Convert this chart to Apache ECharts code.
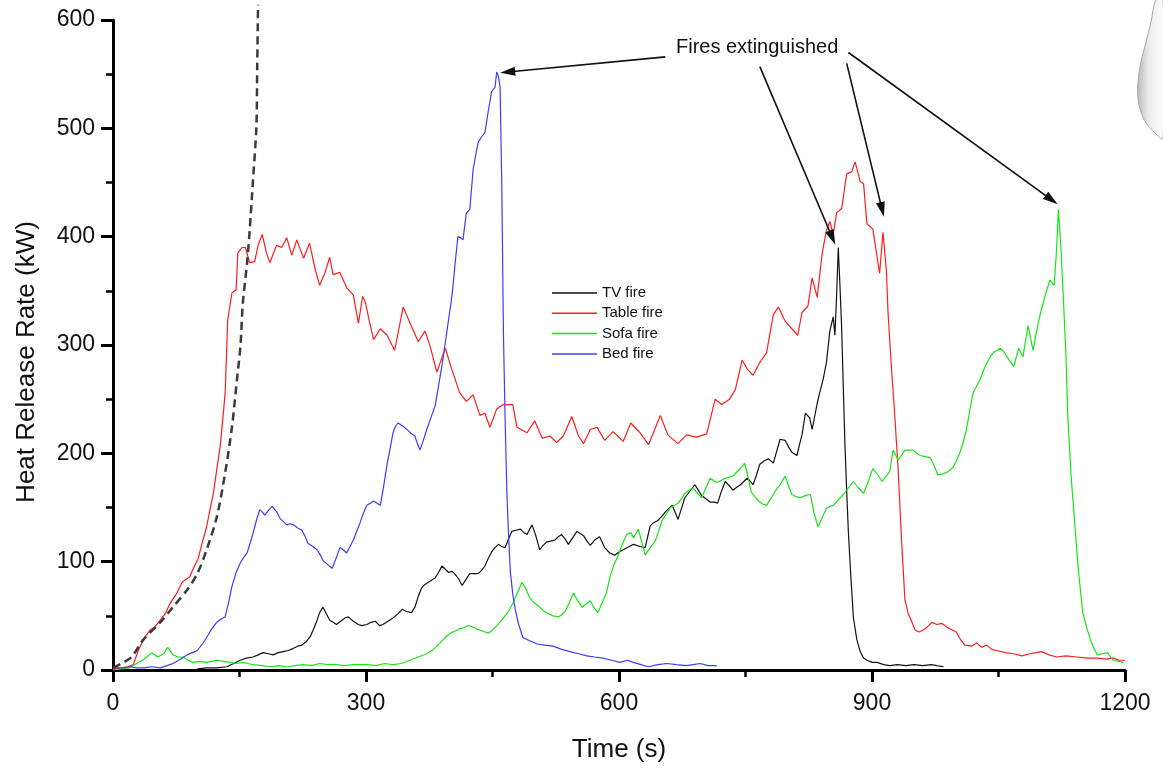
<!DOCTYPE html>
<html>
<head>
<meta charset="utf-8">
<script src="https://cdn.jsdelivr.net/npm/echarts@6/dist/echarts.min.js"></script>
<style>html,body{margin:0;padding:0;background:#fff;}#c{width:1163px;height:771px;}</style>
</head>
<body>
<div id="c"></div>
<script>
// ---- Data (time s, heat release rate kW) ----
var seriesNames = ['TV fire', 'Table fire', 'Sofa fire', 'Bed fire'];

var tvFire = [[100,1],[111,2],[123,2],[135,3],[143,6],[151,9],[158,11],[166,12],[172,14],[178,16],[184,15],[190,14],[196,16],[202,17],[208,18],[214,20],[219,22],[224,23],[229,26],[234,31],[238,38],[242,46],[245,53],[249,58],[253,52],[257,46],[261,44],[265,42],[270,45],[275,48],[279,49],[285,45],[291,42],[295,41],[301,42],[306,44],[311,45],[316,41],[320,42],[326,45],[332,48],[338,52],[343,56],[348,54],[354,53],[358,58],[362,68],[366,76],[370,79],[374,81],[378,83],[382,85],[386,90],[390,96],[394,93],[398,90],[402,91],[405,89],[410,84],[414,78],[418,83],[423,89],[428,89],[433,89],[437,92],[441,96],[445,103],[449,109],[453,113],[457,116],[461,114],[465,113],[469,121],[473,128],[478,129],[483,130],[487,127],[491,125],[494,130],[497,134],[501,125],[506,111],[510,115],[514,118],[519,119],[524,120],[528,123],[532,125],[536,121],[540,116],[545,122],[550,128],[554,126],[558,124],[562,119],[566,115],[571,120],[577,123],[583,113],[589,108],[595,106],[600,109],[605,111],[610,113],[617,116],[625,114],[631,113],[637,133],[641,136],[646,138],[651,142],[655,146],[659,149],[663,152],[667,145],[670,139],[674,149],[678,159],[684,165],[690,171],[694,166],[698,161],[703,158],[708,155],[713,155],[717,154],[721,164],[726,174],[731,170],[735,166],[740,169],[744,171],[748,174],[752,177],[756,174],[759,171],[763,180],[767,190],[772,193],[777,195],[783,191],[787,202],[791,213],[797,212],[801,206],[805,201],[811,198],[814,208],[817,217],[821,237],[826,233],[829,222],[835,246],[838,256],[842,268],[846,284],[850,313],[854,326],[856,309],[858,345],[860,390],[862,355],[864,316],[866,260],[868,206],[870,165],[872,127],[875,85],[878,48],[882,28],[886,17],[890,11],[894,9],[900,7],[906,7],[914,5],[921,4],[930,5],[940,4],[950,5],[960,4],[970,5],[977,4],[985,3]];

var tableFire = [[0,1],[10,2],[18,3],[24,5],[30,18],[36,28],[44,37],[50,40],[56,46],[62,52],[68,62],[75,70],[82,81],[91,86],[96,95],[101,103],[106,118],[111,132],[115,148],[119,163],[123,185],[127,206],[130,230],[133,256],[136,323],[141,348],[146,351],[148,385],[153,390],[157,390],[162,376],[168,377],[172,392],[177,402],[182,385],[186,376],[194,392],[200,390],[206,399],[212,383],[218,397],[226,380],[233,394],[240,369],[245,355],[251,366],[257,381],[261,365],[269,367],[277,353],[285,346],[291,320],[296,345],[299,340],[304,322],[309,305],[317,315],[325,309],[334,295],[344,335],[354,317],[362,303],[370,313],[376,299],[384,275],[394,297],[402,277],[411,256],[419,248],[427,254],[435,235],[441,237],[447,224],[455,241],[463,245],[474,245],[479,224],[491,219],[500,230],[509,214],[518,216],[526,210],[534,216],[544,234],[552,216],[558,209],[566,222],[574,224],[583,212],[593,220],[605,211],[614,228],[625,219],[635,208],[649,235],[658,217],[670,209],[680,217],[692,215],[704,218],[714,250],[722,245],[731,250],[738,259],[746,286],[752,278],[759,272],[767,284],[775,293],[783,328],[789,335],[797,322],[805,315],[812,309],[817,330],[824,336],[829,362],[835,344],[841,385],[846,406],[850,414],[854,402],[858,422],[864,426],[870,458],[876,460],[880,469],[886,451],[890,449],[894,412],[901,407],[909,366],[913,404],[917,369],[919,330],[923,280],[927,235],[931,185],[935,120],[939,65],[943,52],[947,45],[951,37],[956,35],[961,37],[966,40],[971,44],[977,42],[983,43],[990,39],[1000,35],[1005,28],[1010,23],[1018,22],[1024,25],[1030,21],[1036,23],[1042,19],[1048,18],[1058,16],[1068,15],[1078,13],[1087,15],[1095,16],[1101,17],[1110,14],[1119,12],[1130,13],[1143,12],[1155,11],[1167,11],[1178,10],[1186,11],[1193,9],[1200,9]];

var sofaFire = [[0,0],[10,1],[20,2],[28,6],[35,9],[40,12],[46,16],[53,12],[60,15],[65,21],[71,14],[77,12],[83,12],[89,9],[95,7],[103,8],[111,7],[117,8],[123,9],[131,8],[139,7],[146,6],[154,7],[160,6],[166,5],[176,4],[186,3],[196,4],[206,3],[215,4],[225,5],[235,4],[245,6],[255,5],[265,5],[275,4],[285,5],[293,5],[302,5],[312,4],[322,6],[332,5],[342,6],[352,9],[362,12],[372,15],[380,19],[388,25],[394,30],[400,34],[406,36],[411,38],[416,39],[421,41],[426,40],[431,38],[438,36],[445,34],[450,37],[455,41],[461,46],[467,52],[471,57],[475,63],[480,72],[485,81],[490,74],[494,67],[498,63],[503,60],[510,55],[516,52],[522,50],[528,49],[532,51],[536,54],[541,62],[546,71],[551,64],[556,58],[561,61],[566,64],[570,58],[575,53],[580,62],[585,71],[590,88],[594,97],[599,106],[604,116],[609,125],[614,127],[617,122],[620,126],[623,130],[627,118],[631,106],[637,113],[643,119],[647,128],[651,138],[656,144],[661,150],[666,152],[670,154],[674,158],[678,163],[683,166],[688,168],[693,163],[698,159],[703,168],[708,177],[712,175],[716,173],[721,175],[726,177],[731,178],[735,179],[740,183],[744,186],[749,191],[753,178],[757,164],[762,159],[767,155],[771,153],[775,152],[779,157],[783,162],[787,167],[791,171],[797,179],[801,170],[805,162],[810,160],[815,159],[821,161],[827,162],[831,146],[836,132],[841,141],[846,149],[850,151],[854,152],[860,157],[866,162],[872,168],[878,174],[884,168],[890,163],[896,175],[901,186],[907,180],[912,174],[916,178],[921,183],[925,203],[931,194],[935,198],[939,203],[944,203],[949,203],[953,200],[957,198],[963,197],[969,196],[974,188],[978,180],[984,181],[990,183],[996,187],[1000,193],[1004,200],[1008,210],[1012,222],[1016,240],[1020,256],[1024,262],[1028,268],[1034,280],[1040,289],[1044,293],[1048,295],[1052,297],[1056,294],[1062,287],[1068,280],[1074,297],[1079,289],[1085,318],[1091,295],[1097,320],[1100,330],[1103,339],[1107,350],[1111,360],[1116,355],[1119,390],[1121,425],[1124,390],[1127,342],[1130,290],[1132,237],[1136,180],[1141,129],[1145,90],[1150,53],[1155,38],[1159,28],[1163,20],[1167,14],[1173,15],[1179,16],[1183,12],[1186,9],[1192,8],[1198,7]];

var bedFire = [[0,2],[10,2],[20,3],[28,2],[36,2],[46,3],[56,2],[64,4],[71,6],[80,10],[88,14],[94,16],[100,18],[106,24],[111,30],[117,38],[123,44],[128,47],[133,49],[137,62],[141,77],[146,90],[151,99],[155,104],[159,108],[163,118],[166,126],[170,138],[174,148],[177,146],[180,143],[185,148],[189,151],[194,146],[198,140],[202,137],[206,134],[210,135],[214,134],[219,131],[224,129],[228,123],[231,117],[237,114],[242,111],[246,106],[249,101],[255,97],[260,94],[265,104],[269,113],[273,111],[277,108],[281,114],[285,120],[289,128],[293,136],[297,145],[301,152],[305,154],[309,156],[313,154],[317,152],[321,170],[325,190],[329,206],[332,219],[335,225],[338,228],[344,225],[350,221],[354,218],[358,216],[361,209],[364,203],[368,212],[372,222],[377,233],[382,244],[386,262],[390,281],[394,302],[398,324],[401,340],[403,353],[406,378],[409,400],[412,399],[415,397],[419,422],[423,425],[425,443],[427,462],[430,475],[433,487],[437,492],[441,496],[443,506],[445,516],[447,525],[449,534],[451,536],[453,538],[455,552],[457,548],[459,538],[461,448],[463,309],[465,230],[467,165],[469,125],[471,92],[474,70],[477,56],[481,42],[486,30],[494,27],[503,24],[512,23],[522,22],[532,19],[542,17],[552,15],[562,13],[571,12],[581,11],[591,9],[601,7],[610,9],[617,7],[626,5],[635,3],[646,5],[657,6],[668,5],[680,4],[688,5],[696,6],[706,4],[716,4]];

// dashed growth curve
var growthCurve = [[0,2],[10,6],[22,12],[36,28],[56,44],[71,58],[88,74],[100,89],[111,111],[123,141],[133,182],[141,224],[147,268],[151,298],[154,339],[159,376],[162,405],[166,452],[170,501],[171,557],[172,614]];

// annotation arrows: [start, end] in data coordinates
var arrowLines = [
  [[655,566],[468,552]],
  [[767,557],[853,399]],
  [[870,560],[912,425]],
  [[872,570],[1113,434]]
];
var annotationText = 'Fires extinguished';

var xAxisRange = [0, 1200, 300];
var yAxisRange = [0, 600, 100];

var colors = ['#111111', '#ff1c1c', '#14e614', '#3c3cff'];
var FONT = "'Liberation Sans', Arial, sans-serif";

var chart = echarts.init(document.getElementById('c'), null, {renderer: 'canvas'});

function lineSeries(name, data, color) {
  return {
    name: name, type: 'line', data: data, showSymbol: false, symbol: 'none',
    lineStyle: {color: color, width: 1.2}, itemStyle: {color: color},
    silent: true, z: 3
  };
}

function axisCommon() {
  return {
    axisLine: {show: true, onZero: false, lineStyle: {color: '#000', width: 3}},
    axisTick: {show: true, inside: false, length: 12, lineStyle: {color: '#000', width: 3}},
    minorTick: {show: true, splitNumber: 2, length: 7, lineStyle: {color: '#000', width: 2.5}},
    splitLine: {show: false},
    minorSplitLine: {show: false}
  };
}

var option = {
  animation: false,
  backgroundColor: '#ffffff',
  grid: {left: 113, right: 38, top: 20, bottom: 101, containLabel: false},
  legend: {
    data: seriesNames,
    orient: 'vertical',
    left: 547, top: 280,
    icon: 'rect',
    itemWidth: 45, itemHeight: 1.5,
    itemGap: 4.3,
    textStyle: {fontFamily: FONT, fontSize: 15, color: '#111', lineHeight: 16},
    selectedMode: false
  },
  xAxis: Object.assign({
    type: 'value', min: xAxisRange[0], max: xAxisRange[1], interval: xAxisRange[2],
    name: 'Time (s)', nameLocation: 'middle', nameGap: 67,
    nameTextStyle: {fontFamily: FONT, fontSize: 26, color: '#111'},
    axisLabel: {fontFamily: FONT, fontSize: 23, color: '#111', margin: 22,
      formatter: function (v) { return String(v); }}
  }, axisCommon()),
  yAxis: Object.assign({
    type: 'value', min: yAxisRange[0], max: yAxisRange[1], interval: yAxisRange[2],
    name: 'Heat Release Rate (kW)', nameLocation: 'middle', nameGap: 73,
    nameTextStyle: {fontFamily: FONT, fontSize: 26, color: '#111', padding: [0, 34, 0, 0]},
    axisLabel: {fontFamily: FONT, fontSize: 23, color: '#111', margin: 18,
      formatter: function (v) { return String(v); }}
  }, axisCommon()),
  graphic: [
    {
      type: 'text', left: 676, top: 37, silent: true,
      style: {text: annotationText, fontFamily: FONT, fontSize: 20, fill: '#111'}
    },
    {
      type: 'polygon', silent: true,
      shape: {
        smooth: 0.4,
        points: [[1156,0],[1151,22],[1146,42],[1141,62],[1138,82],[1138,98],[1141,112],[1146,123],[1153,131],[1163,138],[1163,0]]
      },
      style: {
        fill: {type: 'linear', x: 0, y: 0, x2: 1, y2: 0, colorStops: [
          {offset: 0, color: '#b8b8b8'}, {offset: 0.4, color: '#ececec'}, {offset: 1, color: '#ffffff'}
        ]},
        stroke: '#a8a8a8', lineWidth: 1
      }
    }
  ],
  series: [
    lineSeries(seriesNames[0], tvFire, colors[0]),
    lineSeries(seriesNames[1], tableFire, colors[1]),
    lineSeries(seriesNames[2], sofaFire, colors[2]),
    lineSeries(seriesNames[3], bedFire, colors[3]),
    {
      name: 'growth', type: 'line', data: growthCurve, showSymbol: false, symbol: 'none',
      smooth: 0.3, clip: false, silent: true, z: 4,
      lineStyle: {color: '#3a3a3a', width: 2.5, type: [8, 5]},
      markLine: {
        silent: true, animation: false,
        symbol: ['none', 'triangle'], symbolSize: [9, 15],
        symbolKeepAspect: false,
        label: {show: false},
        itemStyle: {color: '#111'},
        lineStyle: {color: '#111', width: 1.6, type: 'solid'},
        emphasis: {disabled: true},
        data: arrowLines.map(function (p) { return [{coord: p[0]}, {coord: p[1]}]; })
      }
    }
  ]
};
chart.setOption(option);
</script>
</body>
</html>
